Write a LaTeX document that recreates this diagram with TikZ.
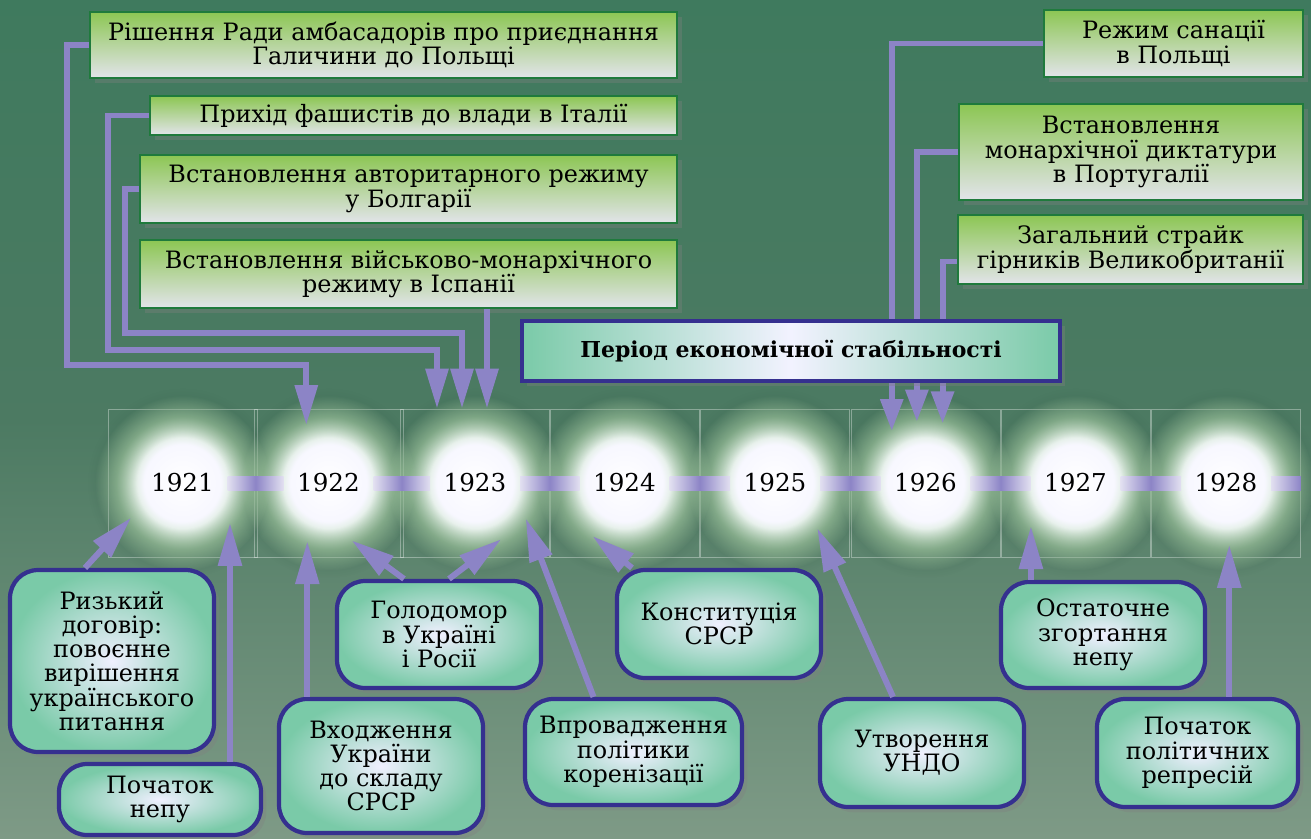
\documentclass[tikz,border=0pt]{standalone}
\usepackage{fontspec}
\setmainfont{DejaVu Serif}
\usepackage{tikz}
\usetikzlibrary{calc}
\usetikzlibrary{arrows.meta}
\usetikzlibrary{shadows}
\usetikzlibrary{fadings}

\definecolor{bgtop}{HTML}{3F7A5E}
\definecolor{bgmid}{HTML}{4C7A62}
\definecolor{bgbot}{HTML}{7E9A86}
\definecolor{evgreen}{HTML}{1F7A3C}
\definecolor{evtop}{HTML}{8CC653}
\definecolor{evbot}{HTML}{E2E4EA}
\definecolor{navy}{HTML}{35308F}
\definecolor{boxteal}{HTML}{7ACAA8}
\definecolor{arrcol}{HTML}{8C84C6}
\definecolor{glowgreen}{HTML}{B6DCB0}
\definecolor{halo}{HTML}{2C5040}

% fadings: white = opaque, black = transparent
\pgfdeclareradialshading{glowfadeshade}{\pgfpointorigin}{color(0bp)=(white); color(13bp)=(white); color(25bp)=(black); color(50bp)=(black)}
\pgfdeclarefading{glowfade}{\pgfuseshading{glowfadeshade}}
\pgfdeclareradialshading{halofadeshade}{\pgfpointorigin}{color(0bp)=(white); color(15bp)=(white!75!black); color(25bp)=(black); color(50bp)=(black)}
\pgfdeclarefading{halofade}{\pgfuseshading{halofadeshade}}
\pgfdeclareradialshading{glowshade}{\pgfpointorigin}{color(0bp)=(white); color(11bp)=(white!97!blue); color(19bp)=(glowgreen); color(25bp)=(glowgreen); color(50bp)=(glowgreen)}

\tikzset{
  evbox/.style={draw=evgreen, line width=1.2pt, top color=evtop, bottom color=evbot,
    align=center, inner sep=0pt, font=\fontsize{13.6}{13.8}\selectfont,
    drop shadow={opacity=.35, shadow xshift=3pt, shadow yshift=-3pt}},
  fact/.style={draw=navy, line width=2.4pt, rounded corners=0.56cm,
    inner color=white!94!blue, outer color=boxteal,
    align=center, inner sep=0pt, font=\fontsize{13.6}{13.8}\selectfont,
    drop shadow={opacity=.35, shadow xshift=3pt, shadow yshift=-3pt}},
  period/.style={draw=navy, line width=2.4pt, left color=boxteal, right color=boxteal,
    middle color=white!95!blue, font=\bfseries\fontsize{12.5}{13}\selectfont,
    drop shadow={opacity=.35, shadow xshift=3pt, shadow yshift=-3pt}},
  cell/.style={draw=white, draw opacity=.35, line width=.4pt, minimum width=2.98cm,
    minimum height=2.96cm, inner sep=0pt},
  year/.style={circle, minimum size=2.48cm, inner sep=0pt, outer sep=0pt,
    font=\fontsize{14}{14}\selectfont},
  arr/.style={draw=arrcol, line width=3.4pt, -{Triangle[length=0.86cm,width=0.46cm]}},
  downarr/.style={draw=arrcol, line width=3.4pt, -{Triangle[length=0.8cm,width=0.44cm]}},
  downarrs/.style={draw=arrcol, line width=3.4pt, -{Triangle[length=0.64cm,width=0.44cm]}},
}

\begin{document}
\begin{tikzpicture}[x=0.02cm, y=-0.02cm]
  \useasboundingbox (0,0) rectangle (1311,838);
  % Background
  \fill[top color=bgtop, bottom color=bgbot, middle color=bgmid] (0,0) rectangle (1311,838);

  % Timeline cells
  \foreach \yr/\xx in {1921/182.5,1922/328.5,1923/475,1924/624.5,1925/775,1926/925.5,1927/1075.5,1928/1226}
    \node[cell] (c\yr) at (\xx,483) {};

  % Halo, band and glow
  \foreach \yr in {1921,...,1928}
    \fill[halo, opacity=.45, path fading=halofade] (c\yr) circle (1.9cm);
  \fill[arrcol] ($(c1921.center)+(0,-7)$) rectangle ($(c1928.east)+(0,7)$);
  \foreach \yr in {1921,...,1928}
    \shade[shading=glowshade, path fading=glowfade] (c\yr) circle (1.75cm);
  \foreach \yr/\nx in {1921/1922,1922/1923,1923/1924,1924/1925,1925/1926,1926/1927,1927/1928}
    \shade[left color=white!75!arrcol, right color=white!75!arrcol, middle color=arrcol]
      ($(c\yr.center)+(45,-7)$) rectangle ($(c\nx.center)+(-45,7)$);
  \shade[left color=white!75!arrcol, right color=arrcol]
    ($(c1928.center)+(45,-7)$) rectangle ($(c1928.east)+(0,7)$);

  % Years
  \foreach \yr in {1921,...,1928}
    \node[year] (y\yr) at (c\yr) {\yr};

  % Events abroad
  \node[evbox, minimum width=11.74cm, minimum height=1.32cm] (amb) at (383.5,45)
    {Рішення Ради амбасадорів про приєднання\\Галичини до Польщі};
  \node[evbox, minimum width=10.54cm, minimum height=0.78cm] (italy) at (413.5,115.5)
    {Прихід фашистів до влади в Італії};
  \node[evbox, minimum width=10.74cm, minimum height=1.36cm] (bulg) at (408.5,189)
    {Встановлення авторитарного режиму\\у Болгарії};
  \node[evbox, minimum width=10.74cm, minimum height=1.36cm] (spain) at (408.5,274)
    {Встановлення військово-монархічного\\режиму в Іспанії};
  \node[evbox, minimum width=5.18cm, minimum height=1.34cm] (sanac) at (1173.5,43.5)
    {Режим санації\\в Польщі};
  \node[evbox, minimum width=6.88cm, minimum height=1.92cm] (portug) at (1131,152)
    {Встановлення\\монархічної диктатури\\в Португалії};
  \node[evbox, minimum width=6.9cm, minimum height=1.38cm] (strike) at (1130.5,249.5)
    {Загальний страйк\\гірників Великобританії};

  % Events in Ukraine
  \node[fact, minimum width=4.08cm, minimum height=3.64cm] (riga) at (112,661)
    {Ризький\\договір:\\повоєнне\\вирішення\\українського\\питання};
  \node[fact, minimum width=4.04cm, minimum height=1.42cm] (nep) at (160,799.5)
    {Початок\\непу};
  \node[fact, minimum width=4.08cm, minimum height=2.14cm] (holod) at (439,634.5)
    {Голодомор\\в Україні\\і Росії};
  \node[fact, minimum width=4.08cm, minimum height=2.68cm] (vkhod) at (381,766)
    {Входження\\України\\до складу\\СРСР};
  \node[fact, minimum width=4.34cm, minimum height=2.12cm] (vprov) at (633.5,752)
    {Впровадження\\політики\\коренізації};
  \node[fact, minimum width=4.08cm, minimum height=2.16cm] (konst) at (719,624)
    {Конституція\\СРСР};
  \node[fact, minimum width=4.08cm, minimum height=2.16cm] (undo) at (922,753)
    {Утворення\\УНДО};
  \node[fact, minimum width=4.08cm, minimum height=2.12cm] (ostat) at (1103,635)
    {Остаточне\\згортання\\непу};
  \node[fact, minimum width=4.02cm, minimum height=2.16cm] (repr) at (1197.5,753)
    {Початок\\політичних\\репресій};

  % Arrows from above
  \coordinate (bendamb) at (67,365);
  \coordinate (benditaly) at (108,350);
  \coordinate (bendbulg) at (125,333);
  \coordinate (t1) at ($(c1923.north)+(-38,0)$);
  \coordinate (t2) at ($(c1923.north)+(-13,0)$);
  \coordinate (t3) at ($(c1923.north)+(12,0)$);
  \draw[downarr] (amb.west) -| (bendamb) -| (y1922.111);
  \draw[downarr] (italy.west) -| (benditaly) -| (t1);
  \draw[downarr] (bulg.west) -| (bendbulg) -| (t2);
  \draw[downarr] (spain.south -| t3) -- (t3);
  \draw[downarrs] (sanac.west) -| (y1926.123);
  \draw[downarrs] (portug.west) -| (y1926.98);
  \draw[downarrs] ($(strike.west)+(0,12)$) -| (y1926.74);

  % Arrows from below
  \draw[arr] ($(riga.north)+(-27,0)$) -- (y1921.214);
  \draw[arr] (nep.north -| y1921.-40) -- (y1921.-40);
  \draw[arr] (vkhod.north -| y1922.-110) -- (y1922.-110);
  \draw[arr] ($(holod.north)+(-35,0)$) -- (y1922.-68);
  \draw[arr] ($(holod.north)+(10,0)$) -- (y1923.-65);
  \draw[arr] ($(vprov.north)+(-40,0)$) -- (y1923.-35);
  \draw[arr] ($(konst.north)+(-87,0)$) -- (y1924.-121);
  \draw[arr] ($(undo.north)+(-29,0)$) -- (y1925.-47);
  \draw[arr] (ostat.north -| y1927.-136) -- (y1927.-136);
  \draw[arr] (repr.north -| y1928.-87) -- (y1928.-87);

  % Period
  \node[period, minimum width=10.76cm, minimum height=1.2cm] (stab) at (791,351)
    {Період економічної стабільності};
\end{tikzpicture}
\end{document}
